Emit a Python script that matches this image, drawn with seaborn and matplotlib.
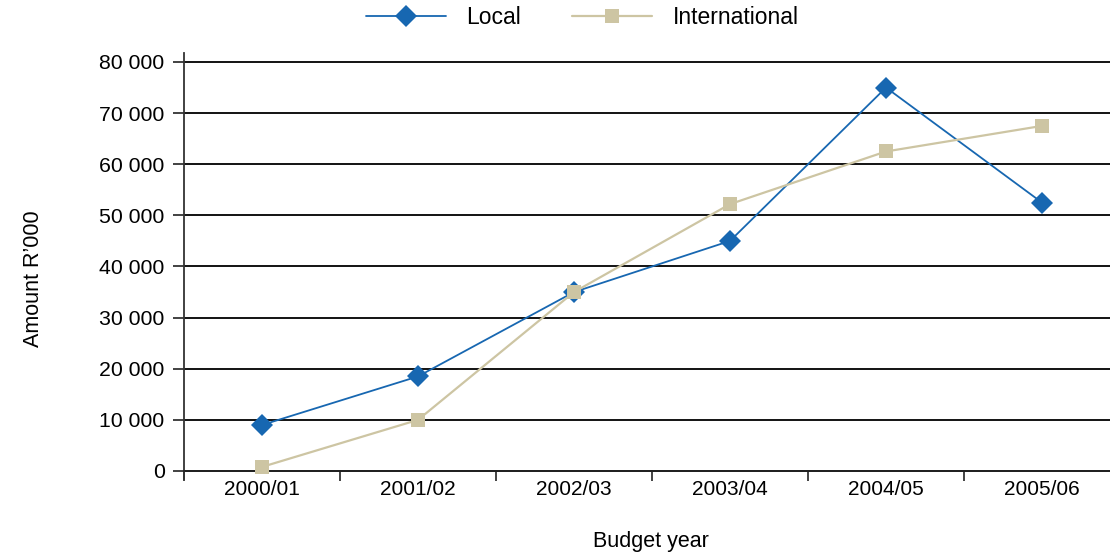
import matplotlib
matplotlib.use("Agg")
import matplotlib.pyplot as plt
import matplotlib.ticker as mticker
import numpy as np
import pandas as pd
import seaborn as sns

# Budget years and amounts (R'000)
years = ["2000/01", "2001/02", "2002/03", "2003/04", "2004/05", "2005/06"]
local = [9000, 18500, 35000, 45000, 75000, 52500]
international = [800, 10000, 35000, 52200, 62500, 67500]
series_names = ["Local", "International"]
y_ticks = [0, 10000, 20000, 30000, 40000, 50000, 60000, 70000, 80000]

df = pd.DataFrame({
    "year": years * 2,
    "pos": list(range(len(years))) * 2,
    "amount": local + international,
    "series": [series_names[0]] * len(years) + [series_names[1]] * len(years),
})

sns.set_theme(style="white")
plt.rcParams["font.family"] = ["Liberation Sans", "DejaVu Sans"]
plt.rcParams["text.color"] = "black"
plt.rcParams["axes.labelcolor"] = "black"
plt.rcParams["xtick.color"] = "black"
plt.rcParams["ytick.color"] = "black"

fig = plt.figure(figsize=(11.1, 5.56), dpi=100)
ax = fig.add_axes([184 / 1110, 77 / 556, 936 / 1110, 426 / 556])

# horizontal reference lines
for v in y_ticks:
    ax.axhline(v, color="black", lw=1.3, zorder=1)

palette = {"Local": "#1767b1", "International": "#cdc5a3"}
markers = {"Local": "D", "International": "s"}
msizes = {"Local": 11, "International": 9.5}
widths = {"Local": 1.3, "International": 1.6}

for name in series_names:
    sub = df[df["series"] == name]
    sns.lineplot(data=sub, x="pos", y="amount", ax=ax, color=palette[name],
                 marker=markers[name], markersize=msizes[name],
                 markeredgewidth=0, lw=widths[name], label=name, zorder=3,
                 legend=False)

ax.set_xlim(-0.5, len(years) - 0.5)
ax.set_ylim(-1565, 81760)

for s in ["top", "right"]:
    ax.spines[s].set_visible(False)
ax.spines["bottom"].set_position(("data", 0))
ax.spines["bottom"].set_color("#222222")
ax.spines["bottom"].set_linewidth(1.3)
ax.spines["left"].set_color("#333333")
ax.spines["left"].set_linewidth(1.3)

ax.set_yticks(y_ticks)
ax.yaxis.set_major_formatter(mticker.FuncFormatter(lambda v, p: f"{int(v):,}".replace(",", " ")))
ax.tick_params(axis="y", direction="out", length=8, width=1.2, color="#222222",
               labelsize=15.3, pad=6, left=True)

ax.set_xticks(range(len(years)))
ax.set_xticklabels(years)
ax.set_xticks(np.arange(-0.5, len(years), 1.0), minor=True)
ax.tick_params(axis="x", which="major", length=0, labelsize=15, pad=6.5)
ax.tick_params(axis="x", which="minor", direction="out", length=7, width=1.2,
               color="#222222", bottom=True)

ax.set_xlabel("Budget year", fontsize=15.5)
ax.set_ylabel("Amount R\u2019000", fontsize=15.5)
ax.xaxis.set_label_coords((651 - 184) / 936, (479 - 542) / 426)
ax.xaxis.label.set_va("center")
ax.yaxis.set_label_coords((34 - 184) / 936, (479 - 279) / 426)
ax.yaxis.label.set_va("center")
ax.grid(False)

handles, labels = ax.get_legend_handles_labels()
fig.legend(handles, labels, loc="center", bbox_to_anchor=(582 / 1110, 1 - 18 / 556),
           ncol=2, frameon=False, fontsize=16.5, handlelength=3.5,
           handletextpad=0.9, columnspacing=2.2)

fig.savefig("out.png", dpi=100, facecolor="white")
